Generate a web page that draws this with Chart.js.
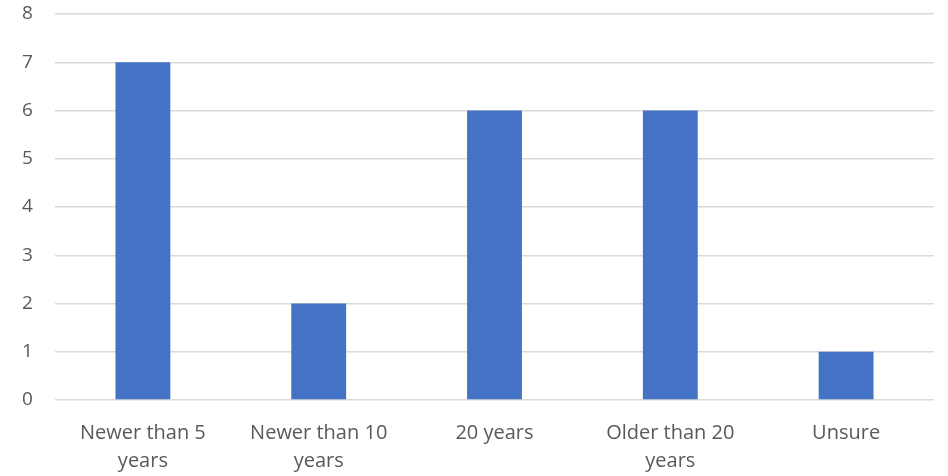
<!DOCTYPE html>
<html>
<head>
<meta charset="utf-8">
<script src="https://cdn.jsdelivr.net/npm/chart.js@4"></script>
<style>
html,body{margin:0;padding:0;background:#fff;}
#wrap{width:948px;height:476px;position:relative;}
</style>
</head>
<body>
<div id="wrap"><canvas id="c" width="948" height="476"></canvas></div>
<script>
const categories = [["Newer than 5","years"],["Newer than 10","years"],["20 years"],["Older than 20","years"],["Unsure"]];
const values = [7, 2, 6, 6, 1];
const yTicks = [0,1,2,3,4,5,6,7,8];

new Chart(document.getElementById('c'), {
  type: 'bar',
  data: {
    labels: categories,
    datasets: [{ data: values, backgroundColor: '#4472c4', borderWidth: 0, categoryPercentage: 1, barPercentage: 0.312 }]
  },
  options: {
    responsive: false,
    animation: false,
    layout: { padding: { top: 14, right: 14, left: 22, bottom: 0 } },
    plugins: { legend: { display: false }, tooltip: { enabled: false } },
    scales: {
      x: {
        grid: { display: false },
        border: { display: false },
        ticks: { color: '#595959', font: { family: 'Open Sans', size: 20, lineHeight: 1.4 }, padding: 11, maxRotation: 0, autoSkip: false },
        afterFit: (s) => { s.height = 76; }
      },
      y: {
        min: 0, max: 8,
        afterBuildTicks: (s) => { s.ticks = yTicks.map(v => ({ value: v })); },
        grid: { color: '#d9d9d9', lineWidth: 1.5, drawTicks: false },
        border: { display: false },
        ticks: { color: '#595959', font: { family: 'Open Sans', size: 19 }, padding: 0, crossAlign: 'far' },
        afterFit: (s) => { s.width = 33; }
      }
    }
  }
});
</script>
</body>
</html>
